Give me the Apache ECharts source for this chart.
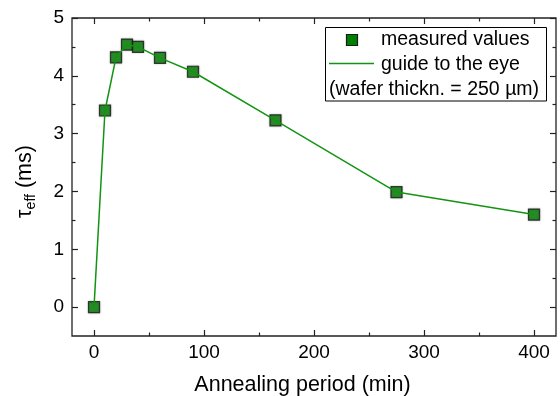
<!DOCTYPE html>
<html>
<head>
<meta charset="utf-8">
<script src="https://cdn.jsdelivr.net/npm/echarts@6/dist/echarts.min.js"></script>
<style>
html,body{margin:0;padding:0;background:#fff;}
#chart{width:560px;height:396px;}
</style>
</head>
<body>
<div id="chart"></div>
<script>
// annealing time (min) vs effective lifetime (ms)
const annealMin = [0, 10, 20, 30, 40, 60, 90, 165, 275, 400];
const tauEff = [0.0, 3.40, 4.32, 4.54, 4.50, 4.31, 4.07, 3.23, 1.99, 1.60];
const legendLabels = ['measured values', 'guide to the eye', '(wafer thickn. = 250 µm)'];

const green = '#008000';
const lineGreen = '#129412';
const axisCol = '#222';
const font = 'Liberation Sans, Arial, sans-serif';

// outer frame range and inner (tick) range
const xFrame = [-20, 420], yFrame = [-0.5, 5];
const W = 560, H = 396;
const gl = 72, gr = 4, gt = 18, gb = 60;
const pw = W - gl - gr, ph = H - gt - gb;
const px = v => gl + (v - xFrame[0]) / (xFrame[1] - xFrame[0]) * pw;
const py = v => gt + (yFrame[1] - v) / (yFrame[1] - yFrame[0]) * ph;
// inner grid spans 0..400 x 0..5
const ix0 = px(0), ix1 = px(400), iy0 = py(0), iy1 = py(5);

var myChart = echarts.init(document.getElementById('chart'));

const tickAxisBase = {
  type: 'value',
  axisLine: {show: false, onZero: false},
  axisTick: {show: true, inside: true, length: 6, lineStyle: {color: axisCol, width: 1.2}},
  minorTick: {show: true, splitNumber: 2, length: 3.5, lineStyle: {color: axisCol, width: 1.2}},
  splitLine: {show: false},
  axisLabel: {show: false}
};

var option = {
  animation: false,
  grid: [
    {left: gl, right: gr, top: gt, bottom: gb, show: true, borderColor: axisCol, borderWidth: 1.3,
      backgroundColor: 'transparent', containLabel: false, outerBoundsMode: 'none'},
    {left: ix0, right: W - ix1, top: iy1, bottom: H - iy0, containLabel: false, outerBoundsMode: 'none'}
  ],
  xAxis: [
    {
      gridIndex: 0, type: 'value', min: xFrame[0], max: xFrame[1],
      axisLine: {show: false, onZero: false}, axisTick: {show: false}, axisLabel: {show: false}, splitLine: {show: false},
      name: 'Annealing period (min)', nameLocation: 'middle', nameGap: 38,
      nameTextStyle: {fontFamily: font, fontSize: 21.5, color: '#000', padding: [0, 23, 0, 0]}
    },
    Object.assign({}, tickAxisBase, {
      gridIndex: 1, position: 'bottom', offset: (py(yFrame[0]) - iy0), min: 0, max: 400, interval: 100,
      axisLabel: {show: true, margin: 7, fontFamily: font, fontSize: 19, color: '#000'}
    }),
    Object.assign({}, tickAxisBase, {gridIndex: 1, position: 'top', offset: 0, min: 0, max: 400, interval: 100})
  ],
  yAxis: [
    {
      gridIndex: 0, type: 'value', min: yFrame[0], max: yFrame[1],
      axisLine: {show: false, onZero: false}, axisTick: {show: false}, axisLabel: {show: false}, splitLine: {show: false},
      name: '{t|τ}{s|eff}{t| (ms)}', nameLocation: 'middle', nameGap: 34, nameRotate: 90,
      nameTextStyle: {
        fontFamily: font, color: '#000', padding: [0, 9, 0, 0],
        rich: {
          t: {fontFamily: font, fontSize: 21.5, color: '#000'},
          s: {fontFamily: font, fontSize: 14, color: '#000', padding: [12, 0, 0, 0]}
        }
      }
    },
    Object.assign({}, tickAxisBase, {
      gridIndex: 1, position: 'left', offset: ix0 - gl, min: 0, max: 5, interval: 1,
      axisLabel: {show: true, margin: 8, fontFamily: font, fontSize: 19, color: '#000'}
    }),
    Object.assign({}, tickAxisBase, {gridIndex: 1, position: 'right', offset: (W - gr) - ix1, min: 0, max: 5, interval: 1})
  ],
  series: [
    {
      name: legendLabels[1], type: 'line', xAxisIndex: 0, yAxisIndex: 0,
      data: annealMin.map((x, i) => [x, tauEff[i]]),
      symbol: 'none', clip: false,
      lineStyle: {color: lineGreen, width: 1.5}
    },
    {
      name: legendLabels[0], type: 'scatter', xAxisIndex: 0, yAxisIndex: 0,
      data: annealMin.map((x, i) => [x, tauEff[i]]),
      symbol: 'rect', symbolSize: 11, clip: false,
      itemStyle: {color: green, borderColor: '#1a1a1a', borderWidth: 1.2, shadowColor: 'rgba(0,0,0,0.35)', shadowBlur: 2}
    }
  ],
  graphic: [
    {type: 'rect', shape: {x: 325.5, y: 27.5, width: 221, height: 73.5}, style: {fill: '#fff', stroke: '#000', lineWidth: 1}, z: 10},
    {type: 'rect', shape: {x: 346.5, y: 34.5, width: 11, height: 11}, style: {fill: green, stroke: '#1a1a1a', lineWidth: 1.2}, z: 11},
    {type: 'line', shape: {x1: 329, y1: 63.5, x2: 374, y2: 63.5}, style: {stroke: lineGreen, lineWidth: 1.5}, z: 11},
    {type: 'text', x: 381, y: 40, style: {text: legendLabels[0], font: '19.5px ' + font, fill: '#000', verticalAlign: 'middle'}, z: 11},
    {type: 'text', x: 381, y: 65, style: {text: legendLabels[1], font: '19.5px ' + font, fill: '#000', verticalAlign: 'middle'}, z: 11},
    {type: 'text', x: 329, y: 90, style: {text: legendLabels[2], font: '19.5px ' + font, fill: '#000', verticalAlign: 'middle'}, z: 11}
  ]
};
option && myChart.setOption(option);
</script>
</body>
</html>
